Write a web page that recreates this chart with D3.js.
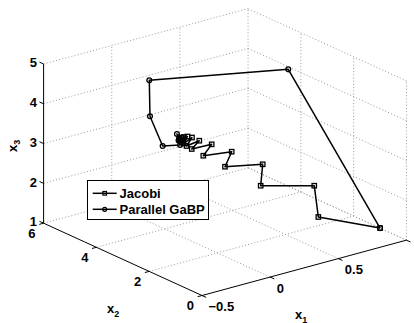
<!DOCTYPE html>
<html><head><meta charset="utf-8">
<script src="https://cdn.jsdelivr.net/npm/d3@7"></script>
<style>html,body{margin:0;padding:0;background:#fff;} svg{display:block;}</style>
</head><body>
<svg id="chart" width="414" height="323"></svg>
<script>
// ---- data ----
const jacobiX1 = [1, 0.644, 0.711, 0.376, 0.449, 0.211, 0.299, 0.110, 0.191, 0.064, 0.129, 0.045, 0.089, 0.033, 0.066, 0.024, 0.044, 0.020, 0.031, 0.013];
const jacobiX2 = [1, 1.5, 2.0, 2.3, 2.6, 2.8, 3.0, 3.1, 3.2, 3.3, 3.35, 3.4, 3.42, 3.45, 3.47, 3.48, 3.49, 3.5, 3.5, 3.5];
const jacobiX3 = [1, 1.458, 2.030, 2.250, 2.629, 2.729, 2.964, 3.008, 3.189, 3.159, 3.292, 3.222, 3.388, 3.281, 3.420, 3.318, 3.422, 3.353, 3.405, 3.384];
const gabpX1 = [1, 0.617, -0.015, -0.107, -0.072, 0.017, -0.006, 0.028, 0.006, 0.013, 0.009];
const gabpX2 = [1, 2.5, 4.5, 4.0, 3.7, 3.5, 3.5, 3.5, 3.5, 3.5, 3.5];
const gabpX3 = [1, 4.890, 4.595, 3.927, 3.239, 3.243, 3.539, 3.421, 3.366, 3.410, 3.395];
const seriesNames = ["Jacobi", "Parallel GaBP"];
const x1Ticks = [-0.5, 0, 0.5, 1];
const x1TickLabels = ["\u22120.5", "0", "0.5", ""];
const x2Ticks = [0, 2, 4, 6];
const x2TickLabels = ["0", "2", "4", "6"];
const x3Ticks = [1, 2, 3, 4, 5];
const x3TickLabels = ["1", "2", "3", "4", "5"];

// ---- projection (orthographic box) ----
const s1 = d3.scaleLinear().domain([-0.5, 1]).range([0, 1]);
const s2 = d3.scaleLinear().domain([0, 6]).range([0, 1]);
const s3 = d3.scaleLinear().domain([1, 5]).range([0, 1]);
const O = [202, 295.5], E1 = [204.45, -55.35], E2 = [-158.4, -72.3], E3 = [0, -159.2];
function P(a, b, c) {
  const u = s1(a), v = s2(b), w = s3(c);
  return [O[0] + E1[0]*u + E2[0]*v + E3[0]*w, O[1] + E1[1]*u + E2[1]*v + E3[1]*w];
}
function unit(v){ const l = Math.hypot(v[0], v[1]); return [v[0]/l, v[1]/l]; }
const d1 = unit(E1), d2 = unit(E2);

const svg = d3.select("#chart");
const font = "'Liberation Sans', Arial, Helvetica, sans-serif";
const line = d3.line();

// ---- grid ----
const grid = [];
x1Ticks.filter(t => t > -0.5).forEach(t => { grid.push([P(t,0,1), P(t,6,1)]); grid.push([P(t,6,1), P(t,6,5)]); });
x2Ticks.filter(t => t > 0).forEach(t => grid.push([P(-0.5,t,1), P(1,t,1)]));
x2Ticks.filter(t => t < 6).forEach(t => grid.push([P(1,t,1), P(1,t,5)]));
x3Ticks.filter(t => t > 1).forEach(t => grid.push([P(-0.5,6,t), P(1,6,t)]));
x3Ticks.forEach(t => grid.push([P(1,0,t), P(1,6,t)]));
svg.append("g").selectAll("path").data(grid).join("path")
  .attr("d", d => line(d)).attr("fill", "none")
  .attr("stroke", "#9a9a9a").attr("stroke-width", 1).attr("stroke-dasharray", "1,2.2");

// ---- axes ----
const ax = svg.append("g").attr("stroke", "#000").attr("stroke-width", 1).attr("fill", "none");
ax.append("path").attr("d", line([P(-0.5,0,1), P(1,0,1)]));
ax.append("path").attr("d", line([P(-0.5,0,1), P(-0.5,6,1)]));
ax.append("path").attr("d", line([P(-0.5,6,1), P(-0.5,6,5)]));
const tl = 4.5;
x1Ticks.forEach(t => { const p = P(t,0,1); ax.append("path").attr("d", line([p, [p[0]-d2[0]*tl, p[1]-d2[1]*tl]])); });
x2Ticks.forEach(t => { const p = P(-0.5,t,1); ax.append("path").attr("d", line([p, [p[0]-d1[0]*tl, p[1]-d1[1]*tl]])); });
x3Ticks.forEach(t => { const p = P(-0.5,6,t); ax.append("path").attr("d", line([p, [p[0]+d2[0]*tl, p[1]+d2[1]*tl]])); });

const txt = svg.append("g").attr("font-family", font).attr("font-weight", "bold").attr("font-size", 13).attr("fill", "#000");
x1Ticks.forEach((t, i) => { const p = P(t,0,1); txt.append("text").attr("x", p[0]+6.5).attr("y", p[1]+15.5).attr("text-anchor", "start").text(x1TickLabels[i]); });
x2Ticks.forEach((t, i) => { const p = P(-0.5,t,1); txt.append("text").attr("x", p[0]-8).attr("y", p[1]+14.6).attr("text-anchor", "end").text(x2TickLabels[i]); });
x3Ticks.forEach((t, i) => { const p = P(-0.5,6,t); txt.append("text").attr("x", p[0]-6.5).attr("y", p[1]+3.2).attr("text-anchor", "end").text(x3TickLabels[i]); });

// axis titles
function title(x, y, sub, rot) {
  const t = txt.append("text").attr("x", x).attr("y", y);
  if (rot) t.attr("transform", `rotate(${rot},${x},${y})`);
  t.append("tspan").text("x");
  t.append("tspan").attr("font-size", 9).attr("dy", 3.5).text(sub);
}
title(295, 319, "1", 0);
title(107, 313.3, "2", 0);
title(16.5, 152, "3", -90);

// ---- series ----
function pts(a, b, c){ return a.map((v, i) => P(v, b[i], c[i])); }
const jac = pts(jacobiX1, jacobiX2, jacobiX3);
const gab = pts(gabpX1, gabpX2, gabpX3);
const g = svg.append("g");
[jac, gab].forEach(ps => g.append("path").attr("d", line(ps)).attr("fill", "none")
  .attr("stroke", "#000").attr("stroke-width", 1.5).attr("stroke-linejoin", "round"));
g.selectAll("rect.m").data(jac).join("rect").attr("class", "m")
  .attr("x", d => d[0]-2.2).attr("y", d => d[1]-2.2).attr("width", 4.4).attr("height", 4.4)
  .attr("fill", "none").attr("stroke", "#000").attr("stroke-width", 1.3);
g.selectAll("circle.m").data(gab).join("circle").attr("class", "m")
  .attr("cx", d => d[0]).attr("cy", d => d[1]).attr("r", 2.4)
  .attr("fill", "none").attr("stroke", "#000").attr("stroke-width", 1.3);

// ---- legend ----
const lg = svg.append("g");
lg.append("rect").attr("x", 87.5).attr("y", 180.5).attr("width", 121).attr("height", 39)
  .attr("fill", "#fff").attr("stroke", "#000").attr("stroke-width", 1);
const rows = [193.3, 209.3];
seriesNames.forEach((name, i) => {
  const y = rows[i];
  lg.append("path").attr("d", line([[92.7, y], [116.7, y]])).attr("stroke", "#000").attr("stroke-width", 1.5);
  if (i === 0) lg.append("rect").attr("x", 102.9).attr("y", y-1.8).attr("width", 3.6).attr("height", 3.6)
    .attr("fill", "none").attr("stroke", "#000").attr("stroke-width", 1.2);
  else lg.append("circle").attr("cx", 104.7).attr("cy", y).attr("r", 2)
    .attr("fill", "none").attr("stroke", "#000").attr("stroke-width", 1.2);
  lg.append("text").attr("x", 119.5).attr("y", y + 4.6).attr("font-family", font)
    .attr("font-weight", "bold").attr("font-size", 13).text(name);
});
</script>
</body></html>
